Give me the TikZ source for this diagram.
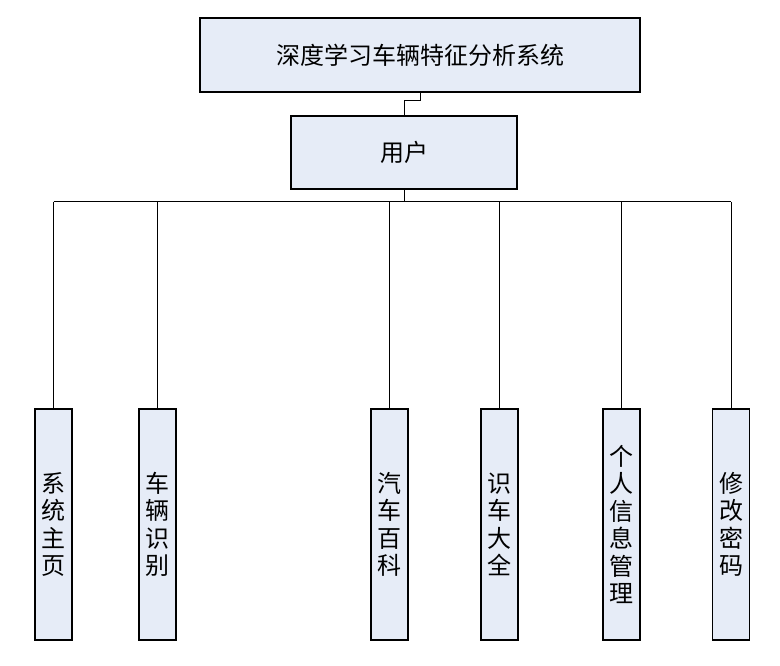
\documentclass[tikz,border=0pt]{standalone}
\usepackage{fontspec}
\setmainfont{Noto Sans CJK SC}
\usepackage{tikz}
\definecolor{boxfill}{RGB}{230,236,247}
\tikzset{
  box/.style={draw=black, fill=boxfill, line width=0.9pt, inner sep=0pt,
    font=\fontsize{18pt}{20.6pt}\selectfont, align=center},
  topbox/.style={box, minimum width=330pt, minimum height=55.5pt},
  userbox/.style={box, minimum width=169.5pt, minimum height=54.75pt},
  leafbox/.style={box, minimum width=27.75pt, minimum height=173.25pt},
  link/.style={-, black, line width=0.75pt}
}

\begin{document}
\begin{tikzpicture}[x=0.75pt, y=-0.75pt]
\useasboundingbox (0,0) rectangle (780,666);

\node[topbox] (sys) at (420,55) {深度学习车辆特征分析系统};
\node[userbox] (user) at (404,152.5) {用户};

\node[leafbox] (home) at (53.5,524.5) {系\\统\\主\\页};
\node[leafbox] (recog) at (157.5,524.5) {车\\辆\\识\\别};
\node[leafbox] (wiki) at (389.5,524.5) {汽\\车\\百\\科};
\node[leafbox] (cars) at (499.5,524.5) {识\\车\\大\\全};
\node[leafbox] (info) at (621.5,524.5) {个\\人\\信\\息\\管\\理};
\node[leafbox] (pwd) at (731,524.5) {修\\改\\密\\码};

\coordinate (bus) at (404,202);

\draw[link] (sys.south) -- ++(0,8) -| (user.north);
\draw[link] (user.south) -- (user.south |- bus);
\draw[link] (home.north |- bus) -- (pwd.north |- bus);

\foreach \leaf in {home, recog, wiki, cars, info, pwd}
  \draw[link] (\leaf.north |- bus) -- (\leaf.north);

\end{tikzpicture}
\end{document}
